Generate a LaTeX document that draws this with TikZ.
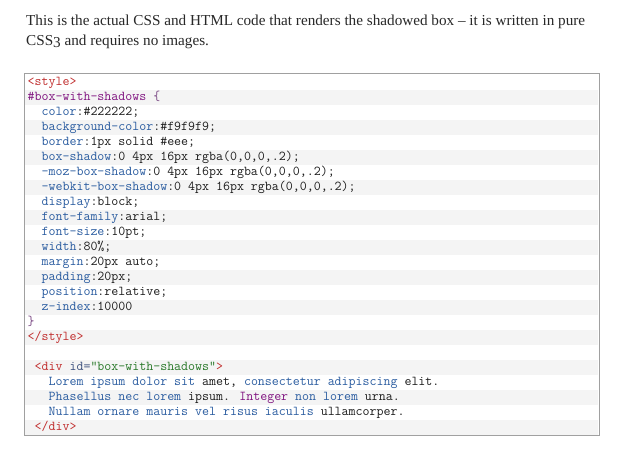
\documentclass[tikz,border=0pt]{standalone}
\usepackage{fontspec}
\setmainfont{Liberation Serif}
\definecolor{tagc}{RGB}{192,44,44}
\definecolor{selc}{RGB}{128,20,128}
\definecolor{propc}{RGB}{42,92,160}
\definecolor{strc}{RGB}{40,120,40}
\definecolor{attc}{RGB}{60,80,125}
\definecolor{brc}{RGB}{120,70,130}
\definecolor{valc}{RGB}{28,28,28}
\definecolor{rowc}{RGB}{244,244,244}
\definecolor{bordc}{RGB}{160,160,160}
\definecolor{parac}{RGB}{40,40,40}
\newcommand\cTag[1]{\textcolor{tagc}{#1}}
\newcommand\cSel[1]{\textcolor{selc}{#1}}
\newcommand\cProp[1]{\textcolor{propc}{#1}}
\newcommand\cStr[1]{\textcolor{strc}{#1}}
\newcommand\cAtt[1]{\textcolor{attc}{#1}}
\newcommand\cBr[1]{\textcolor{brc}{#1}}
\begin{document}
\begin{tikzpicture}[x=1bp,y=-1bp,
  codeline/.style={anchor=base west,inner sep=0pt,text=valc,
    font=\ttfamily\fontsize{13.55bp}{13.55bp}\selectfont\addfontfeature{FakeBold=0.3}},
  paraline/.style={anchor=base west,inner sep=0pt,text=parac,
    font=\fontsize{15.2bp}{20bp}\selectfont}]
\useasboundingbox (0,0) rectangle (621,451);
\fill[white] (0,0) rectangle (621,451);
% paragraph
\node[paraline] (p1) at (26,25.7) {This is the actual CSS and HTML code that renders the shadowed box – it is written in pure};
\node[paraline] (p2) at (26,46) {CSS\raisebox{-0.2ex}{3} and requires no images.};
% code box background and rows
\fill[white] (23.5,73.5) rectangle (598.5,434.5);
\foreach \i in {1,3,...,23} {
  \fill[rowc] (24,75+15*\i) rectangle (598,90+15*\i);
}
\node[draw=bordc,line width=1bp,inner sep=0pt,minimum width=575bp,minimum height=361bp,anchor=north west] (box) at (23.5,73.5) {};
% code lines
\node[codeline] (r0) at (27.5,85.6) {\cTag{<style>}};
\node[codeline] (r1) at (27.5,100.6) {\cSel{\#box-with-shadows} \cBr{\{}};
\node[codeline] (r2) at (27.5,115.6) {\ \ \cProp{color}:\#222222;};
\node[codeline] (r3) at (27.5,130.6) {\ \ \cProp{background-color}:\#f9f9f9;};
\node[codeline] (r4) at (27.5,145.6) {\ \ \cProp{border}:1px solid \#eee;};
\node[codeline] (r5) at (27.5,160.6) {\ \ \cProp{box-shadow}:0 4px 16px rgba(0,0,0,.2);};
\node[codeline] (r6) at (27.5,175.6) {\ \ \cProp{-moz-box-shadow}:0 4px 16px rgba(0,0,0,.2);};
\node[codeline] (r7) at (27.5,190.6) {\ \ \cProp{-webkit-box-shadow}:0 4px 16px rgba(0,0,0,.2);};
\node[codeline] (r8) at (27.5,205.6) {\ \ \cProp{display}:block;};
\node[codeline] (r9) at (27.5,220.6) {\ \ \cProp{font-family}:arial;};
\node[codeline] (r10) at (27.5,235.6) {\ \ \cProp{font-size}:10pt;};
\node[codeline] (r11) at (27.5,250.6) {\ \ \cProp{width}:80\%;};
\node[codeline] (r12) at (27.5,265.6) {\ \ \cProp{margin}:20px auto;};
\node[codeline] (r13) at (27.5,280.6) {\ \ \cProp{padding}:20px;};
\node[codeline] (r14) at (27.5,295.6) {\ \ \cProp{position}:relative;};
\node[codeline] (r15) at (27.5,310.6) {\ \ \cProp{z-index}:10000};
\node[codeline] (r16) at (27.5,325.6) {\cBr{\}}};
\node[codeline] (r17) at (27.5,340.6) {\cTag{</style>}};
\node[codeline] (r19) at (27.5,370.6) {\ \cTag{<div} \cAtt{id=}\cStr{"box-with-shadows"}\cTag{>}};
\node[codeline] (r20) at (27.5,385.6) {\ \ \ \cProp{Lorem ipsum dolor sit} amet, \cProp{consectetur adipiscing} elit.};
\node[codeline] (r21) at (27.5,400.6) {\ \ \ \cProp{Phasellus nec lorem} ipsum. \cSel{Integer} \cProp{non lorem} urna.};
\node[codeline] (r22) at (27.5,415.6) {\ \ \ \cProp{Nullam ornare mauris vel risus iaculis} ullamcorper.};
\node[codeline] (r23) at (27.5,430.6) {\ \cTag{</div>}};
\end{tikzpicture}
\end{document}
